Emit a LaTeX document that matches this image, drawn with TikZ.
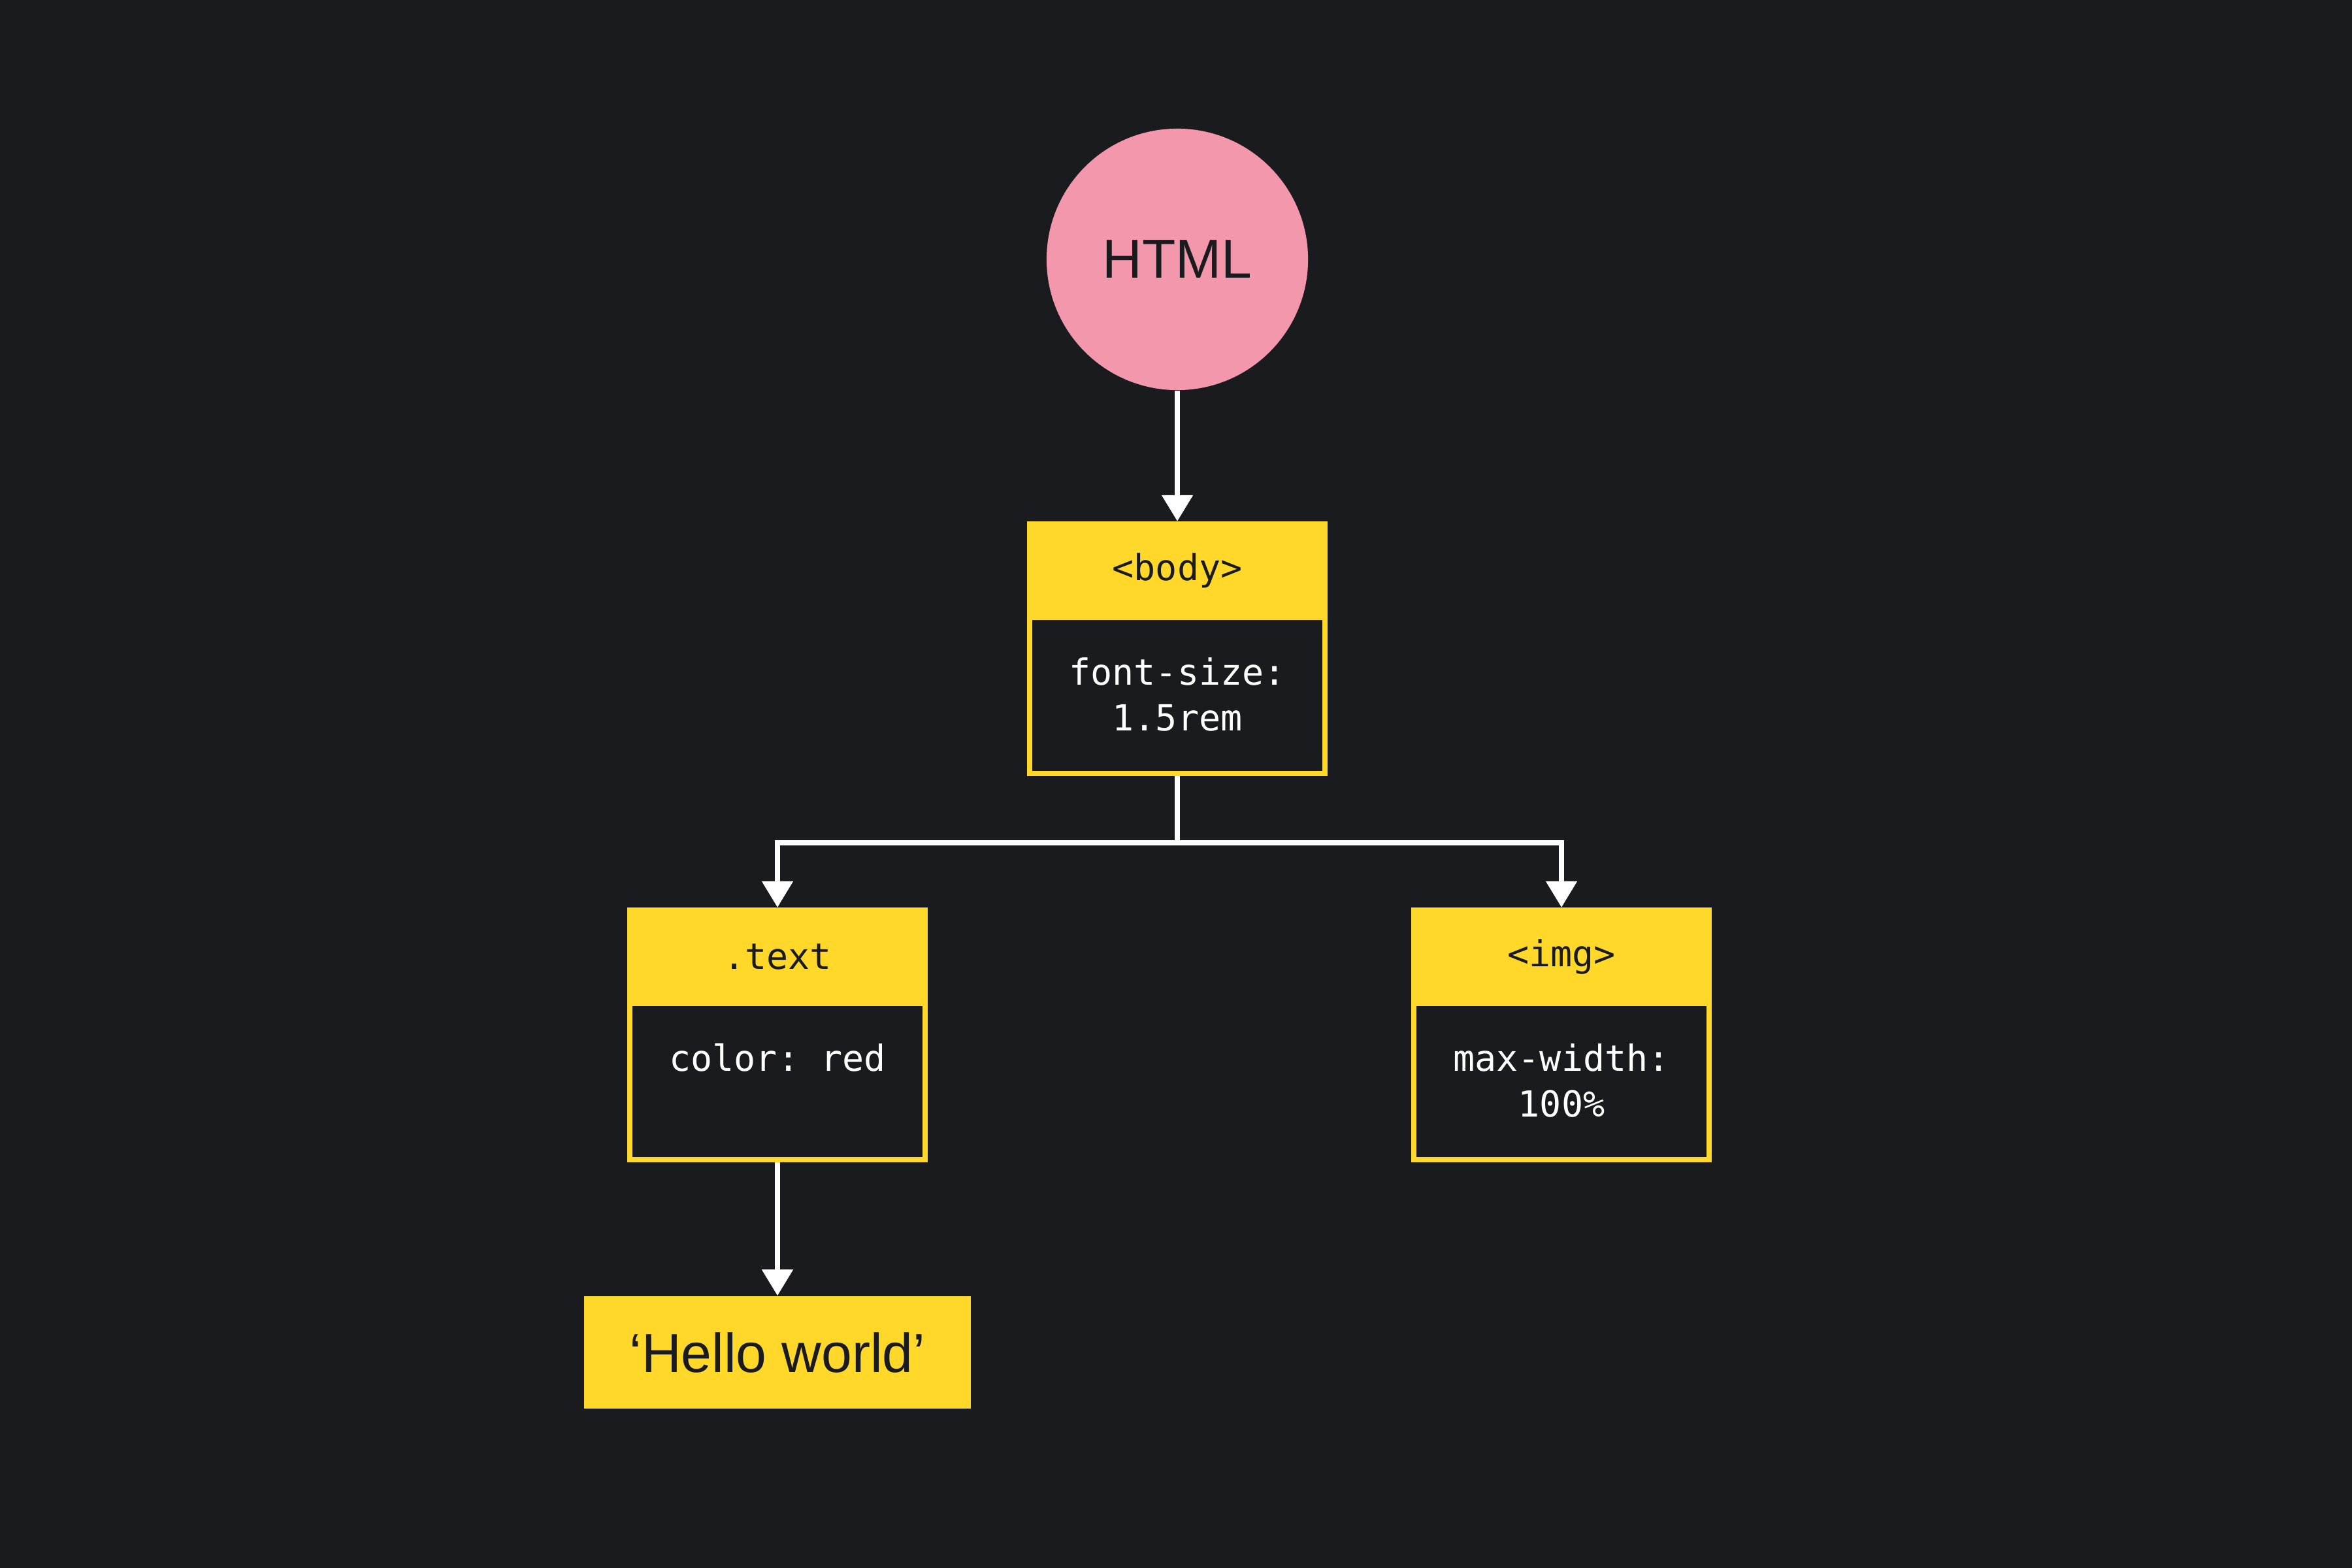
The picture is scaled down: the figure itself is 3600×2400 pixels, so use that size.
\documentclass[tikz,border=0pt]{standalone}
\usepackage{fontspec}
\setmainfont{Liberation Sans}
\setmonofont{DejaVu Sans Mono}
\usetikzlibrary{arrows.meta}
\definecolor{bg}{HTML}{1A1B1F}
\definecolor{ylw}{HTML}{FFD829}
\definecolor{pnk}{HTML}{F397AC}
\begin{document}
\begin{tikzpicture}[x=0.01cm,y=-0.01cm,
  box/.style={draw=ylw, fill=bg, line width=0.08cm, rectangle, minimum width=4.52cm, minimum height=3.82cm, inner sep=0pt},
  head/.style={fill=ylw, rectangle, minimum width=4.6cm, minimum height=1.5cm, inner sep=0pt, anchor=north, text=bg, font=\ttfamily\fontsize{15.65}{20}\selectfont},
  code/.style={anchor=base, text=white, inner sep=0pt, font=\ttfamily\fontsize{15.65}{20}\selectfont},
  conn/.style={draw=white, line width=0.08cm, -{Triangle[width=0.46cm,length=0.40cm]}}
]
\fill[bg] (0,0) rectangle (3600,2400);
\useasboundingbox (0,0) rectangle (3600,2400);

% HTML root
\node[circle, fill=pnk, minimum size=4cm, inner sep=0pt, text=bg, font=\fontsize{23.9}{28}\selectfont] (html) at (1802,397) {HTML};

% body box
\node[box] (body) at (1802,993) {};
\node[head] (bodyh) at (body.north) {<body>};
\node[code] (bodyl1) at (1802,1048) {font-size:};
\node[code] (bodyl2) at (1802,1118) {1.5rem};

% .text box
\node[box] (txt) at (1190,1584) {};
\node[head] (txth) at (txt.north) {.text};
\node[code] (txtl1) at (1190,1639) {color: red};

% img box
\node[box] (img) at (2390,1584) {};
\node[head] (imgh) at (img.north) {<img>};
\node[code] (imgl1) at (2390,1639) {max-width:};
\node[code] (imgl2) at (2390,1709) {100\%};

% Hello world
\node[fill=ylw, rectangle, minimum width=5.92cm, minimum height=1.72cm, inner sep=0pt, text=bg, font=\fontsize{23.9}{28}\selectfont] (hello) at (1190,2070) {‘Hello world’};

% connectors
\coordinate (split) at (1802,1290);
\draw[conn] (html.south) -- (body.north);
\draw[conn] (body.south) -- (split) -| (txt.north);
\draw[conn] (split) -| (img.north);
\draw[conn] (txt.south) -- (hello.north);
\end{tikzpicture}
\end{document}
